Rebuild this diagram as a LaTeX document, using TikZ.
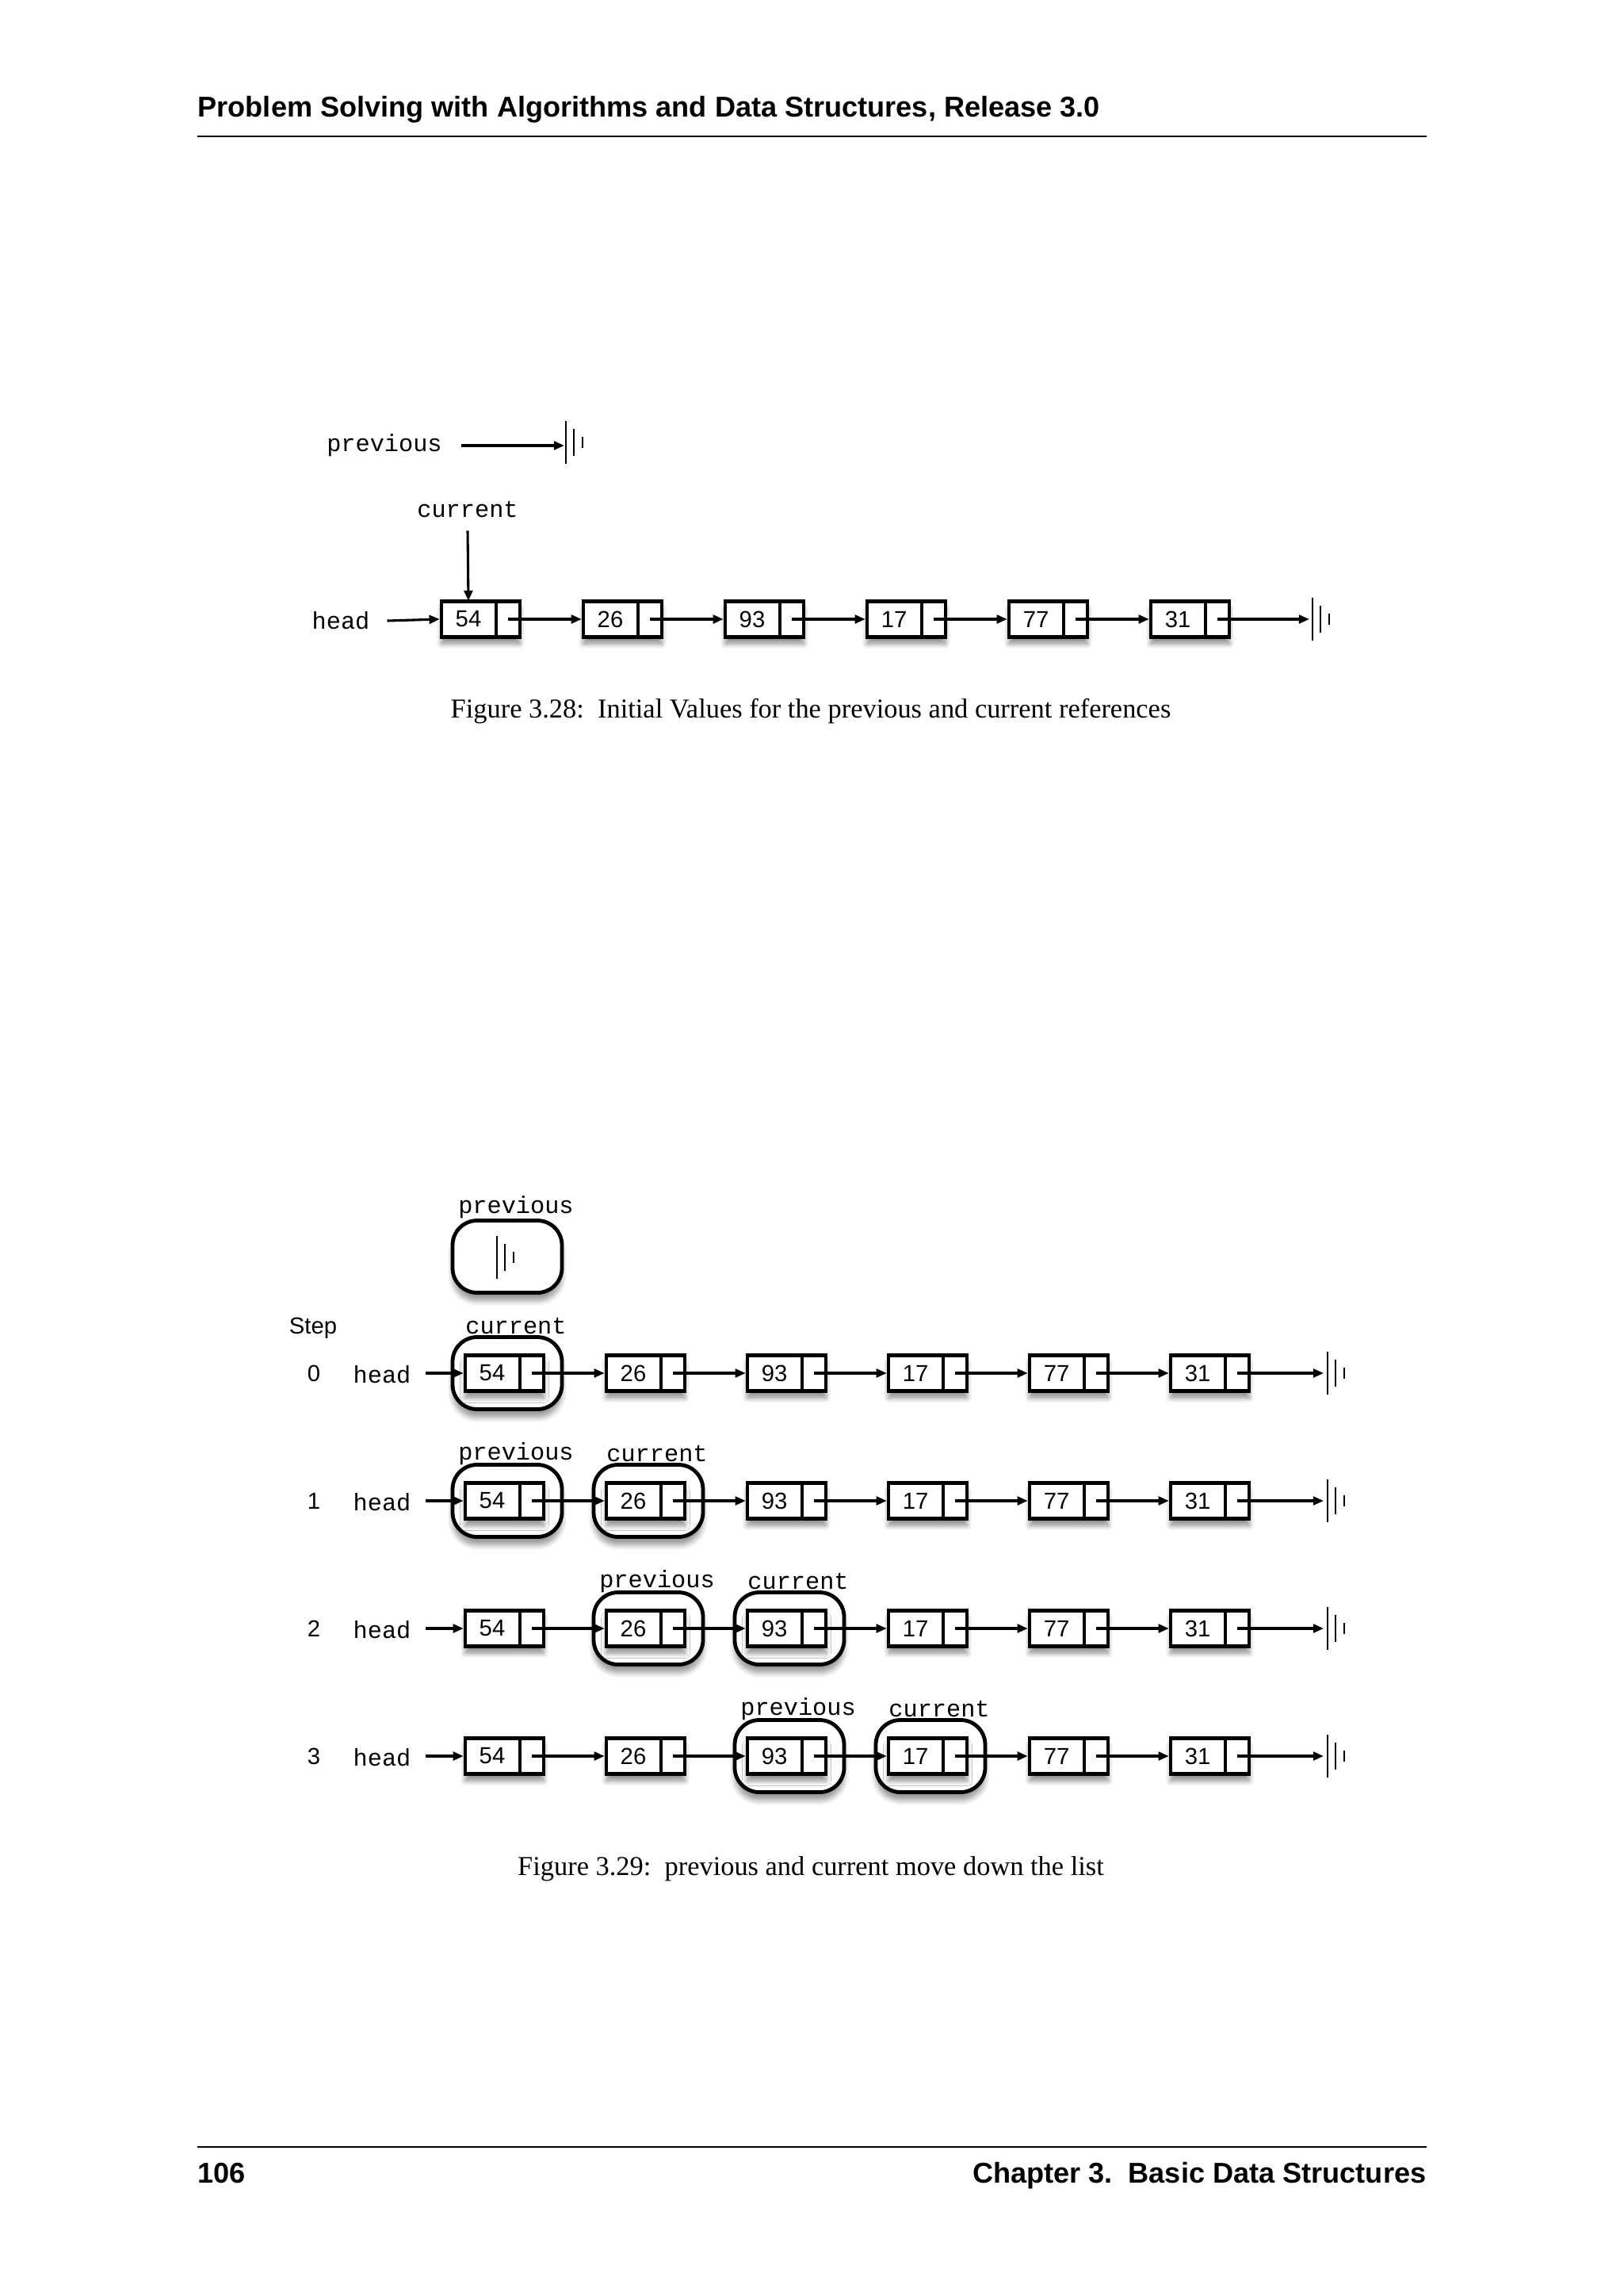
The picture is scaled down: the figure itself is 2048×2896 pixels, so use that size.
\documentclass[tikz,border=0pt]{standalone}
\usepackage{fontspec}
\setmainfont{Liberation Serif}
\setsansfont{Liberation Sans}
\setmonofont{Liberation Mono}
\usetikzlibrary{arrows.meta,shadows.blur}
\tikzset{
  cellbox/.style={draw,line width=1.3pt,fill=white,minimum width=99*0.29063pt,minimum height=45*0.29063pt,inner sep=0pt,
    blur shadow={shadow xshift=0pt,shadow yshift=-2.5pt,shadow blur steps=6,shadow opacity=45}},
  ring/.style={draw,line width=1.4pt,fill=white,rounded corners=9pt,minimum width=138*0.29063pt,minimum height=91*0.29063pt,
    blur shadow={shadow xshift=0pt,shadow yshift=-3pt,shadow blur steps=6,shadow opacity=40}},
  num/.style={font=\sffamily\fontsize{8.5}{9}\selectfont},
  mono/.style={font=\ttfamily\fontsize{8.8}{9}\selectfont},
  link/.style={line width=0.9pt,-{Triangle[length=11pt*0.29063*1.2,width=9pt*0.29063*1.2]}},
  nullbar/.style={line width=0.8pt},
}
\newcommand{\nullsym}[2]{%
  \draw[nullbar] (#1,#2-27) -- (#1,#2+27);
  \draw[nullbar] (#1+10,#2-17) -- (#1+10,#2+17);
  \draw[nullbar] (#1+21,#2-7) -- (#1+21,#2+7);}
\begin{document}
\begin{tikzpicture}[x=0.29063pt,y=-0.29063pt]
\useasboundingbox (0,0) rectangle (2048,2896);
% header / footer
\node[anchor=base west,font=\sffamily\bfseries\fontsize{10.5}{12}\selectfont,inner sep=0] (hdr) at (249,148) {Problem Solving with Algorithms and Data Structures, Release 3.0};
\draw[line width=0.5pt] (249,172) -- (1800,172);
\draw[line width=0.5pt] (249,2708) -- (1800,2708);
\node[anchor=base west,font=\sffamily\bfseries\fontsize{10.5}{12}\selectfont,inner sep=0] (pg) at (249,2753) {106};
\node[anchor=base east,font=\sffamily\bfseries\fontsize{10.5}{12}\selectfont,inner sep=0] (ch) at (1800,2753) {Chapter 3.\ \ Basic Data Structures};

% ===== Figure 3.28 =====
\node[mono] (tprev) at (485,562) {previous};
\coordinate (tnull) at (712,562);
\draw[link] (tprev.east)++(12,0) coordinate (tpa) -- (tnull);
\nullsym{714}{558}
\node[mono] (tcur) at (590,643) {current};
\node[mono] (thead) at (430,783) {head};
\foreach \v [count=\i from 0] in {54,26,93,17,77,31}{
  \node[cellbox] (t\i) at ({606.5+179*\i},781) {};
  \draw[line width=1.1pt] ({557+179*\i+69},758.5) -- ({557+179*\i+69},803.5);
  \node[num] (tv\i) at ({557+179*\i+34},781) {\v};
}
\draw[link] (thead.east)++(10,0) -- (t0.west);
\draw[link] (tcur.south) ++(0,4) -- (591,758);
\foreach \i [evaluate=\i as \j using int(\i+1)] in {0,...,4}{
  \draw[link] ({557+179*\i+84},781) -- (t\j.west);
}
\coordinate (tend) at (1652,781);
\draw[link] (1536,781) -- (tend);
\nullsym{1656}{781}
\node[font=\fontsize{10}{12}\selectfont] (cap1) at (1023,897) {Figure 3.28:\ \ Initial Values for the previous and current references};

% ===== Figure 3.29 =====
\node[ring] (prevring) at (640,1585) {};
\nullsym{627}{1586}
\node[mono] (plab) at (651,1523) {previous};
\node[font=\sffamily\fontsize{8.5}{9}\selectfont] (step) at (395,1675) {Step};
% rings per row: row, col, label
\foreach \r/\c/\lab in {0/0/current,1/0/previous,1/1/current,2/1/previous,2/2/current,3/2/previous,3/3/current}{
  \node[ring] (ring\r\c) at ({640+178*\c},{1732+161*\r}) {};
  \node[mono] (rl\r\c) at ({651+178*\c},{1732+161*\r-59}) {\lab};
}
\foreach \r in {0,1,2,3}{
  \node[num] (sn\r) at (396,{1732+161*\r}) {\r};
  \node[mono] (h\r) at (482,{1734+161*\r}) {head};
  \foreach \v [count=\i from 0] in {54,26,93,17,77,31}{
    \node[cellbox] (n\r\i) at ({636.5+178*\i},{1732+161*\r}) {};
    \draw[line width=1.1pt] ({587+178*\i+69},{1732+161*\r-22.5}) -- ({587+178*\i+69},{1732+161*\r+22.5});
    \node[num] (v\r\i) at ({587+178*\i+34},{1732+161*\r}) {\v};
  }
  \draw[link] ({h\r}.east)++(6,-2) -- (n\r0.west);
  \foreach \i [evaluate=\i as \j using int(\i+1)] in {0,...,4}{
    \draw[link] ({587+178*\i+84},{1732+161*\r}) -- (n\r\j.west);
  }
  \coordinate (e\r) at (1670,{1732+161*\r});
  \draw[link] (1561,{1732+161*\r}) -- (e\r);
  \nullsym{1675}{1732+161*\r}
}
\node[font=\fontsize{10}{12}\selectfont] (cap2) at (1023,2357) {Figure 3.29:\ \ previous and current move down the list};
\end{tikzpicture}
\end{document}
